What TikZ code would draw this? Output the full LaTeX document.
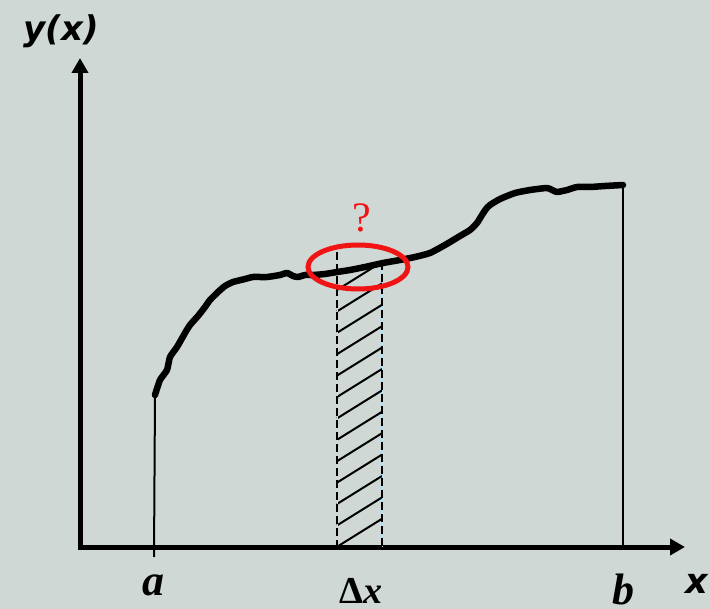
\documentclass[tikz,border=0pt]{standalone}
\usepackage{fontspec}
\setmainfont{Liberation Serif}
\newfontfamily\labsans{DejaVu Sans}
\usetikzlibrary{arrows.meta}
\definecolor{bgc}{RGB}{207,216,213}
\definecolor{redc}{RGB}{240,20,20}
\tikzset{
  axisline/.style={line width=5pt, -{Triangle[width=16pt,length=15pt]}},
  curveline/.style={line width=6.5pt, line join=round, line cap=round},
  thinline/.style={line width=2pt},
  dashline/.style={line width=2.4pt, dash pattern=on 8pt off 4pt},
  hatchline/.style={line width=2pt},
  lab/.style={inner sep=0pt, font=\fontsize{44}{50}\selectfont\bfseries\itshape},
}
\begin{document}
\begin{tikzpicture}[x=1pt,y=-1pt]
\fill[bgc] (0,0) rectangle (710,609);
\useasboundingbox (0,0) rectangle (710,609);
% axes
\coordinate (O) at (80,547);
\coordinate (Ytip) at (80,58);
\coordinate (Xstart) at (78,547);
\coordinate (Xtip) at (685,547);
\draw[axisline] (O) -- (Ytip);
\draw[axisline] (Xstart) -- (Xtip);
% vertical bounds
\coordinate (Atop) at (155,395);
\coordinate (Abot) at (154,557);
\coordinate (Btop) at (623,185);
\coordinate (Bbot) at (623,547);
\draw[thinline] (Atop) -- (Abot);
\draw[thinline] (Btop) -- (Bbot);
% hatching
\foreach \i in {0,...,12}{
  \pgfmathsetmacro{\yy}{290+21.4*\i}
  \draw[hatchline] (337,\yy) -- (382,\yy-28);
}
% dashed strip borders
\coordinate (Ltop) at (337,252);
\coordinate (Lbot) at (337,547);
\coordinate (Rtop) at (382,262);
\coordinate (Rbot) at (382,547);
\draw[line width=0.6pt, white!70!cyan] (Ltop) -- (Lbot) (Rtop) -- (Rbot);
\draw[dashline] (Ltop) -- (Lbot);
\draw[dashline] (Rtop) -- (Rbot);
% curve
\draw[curveline] plot[smooth, tension=0.35] coordinates {
(155,395) (160,380) (167,370) (170,357) (177,347) (185,333) (190,325)
(198,316) (205,307) (210,300) (218,292) (225,286) (233,282) (245,279)
(253,277) (267,277) (280,275) (287,273) (293,276) (298,277) (305,275)
(313,275) (325,274) (337,272) (350,270) (365,267) (383,263) (400,260)
(415,257) (430,253) (445,245) (460,236) (470,230) (477,223) (482,215)
(486,209) (490,205) (500,199) (515,193) (530,190) (547,188) (552,190)
(557,192) (567,190) (577,187) (590,187) (605,186) (623,185)};
% red ellipse and question mark
\draw[redc, line width=5pt] (358,267) ellipse [x radius=50, y radius=22];
\node[text=redc, inner sep=0pt, font=\fontsize{42}{46}\selectfont] (q) at (362,218) {?};
% labels
\node[inner sep=0pt, font=\labsans\fontsize{34}{38}\selectfont\bfseries\itshape] (yx) at (61,31) {y(x)};
\node[lab] (la) at (153,585) {a};
\node[lab] (lb) at (623,589) {b};
\node[inner sep=0pt, font=\fontsize{38}{44}\selectfont\bfseries] (ldx) at (361,591) {Δ\textit{x}};
\node[inner sep=0pt, font=\labsans\fontsize{35}{40}\selectfont\bfseries\itshape] (lx) at (697,584) {x};
\end{tikzpicture}
\end{document}
